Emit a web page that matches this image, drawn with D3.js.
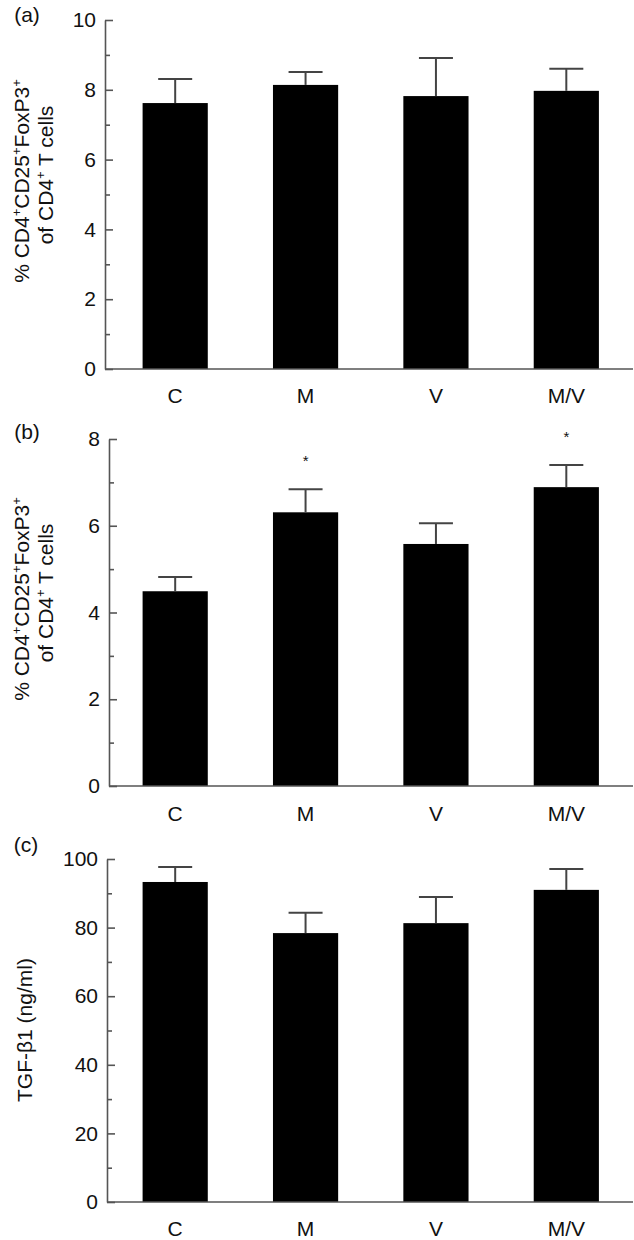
<!DOCTYPE html>
<html>
<head>
<meta charset="utf-8">
<script src="https://cdn.jsdelivr.net/npm/d3@7"></script>
<style>
  html, body { margin: 0; padding: 0; background: #fff; }
  svg { display: block; }
  text { font-family: "Liberation Sans", Arial, Helvetica, sans-serif; fill: #111; }
</style>
</head>
<body>
<svg id="chart" width="634" height="1240"></svg>
<script>
// ---- data ----
const categories = ["C", "M", "V", "M/V"];

const valuesA = [7.62, 8.14, 7.82, 7.97];
const errorsA = [0.69, 0.37, 1.09, 0.63];
const ticksA = [0, 2, 4, 6, 8, 10];
const minorTicksA = [1, 3, 5, 7, 9];

const valuesB = [4.49, 6.31, 5.58, 6.89];
const errorsB = [0.33, 0.53, 0.48, 0.51];
const starsB = [false, true, false, true];
const ticksB = [0, 2, 4, 6, 8];
const minorTicksB = [1, 3, 5, 7];

const valuesC = [93.3, 78.4, 81.3, 91.0];
const errorsC = [4.4, 5.9, 7.6, 6.1];
const ticksC = [0, 20, 40, 60, 80, 100];
const minorTicksC = [10, 30, 50, 70, 90];

const panelLabels = ["(a)", "(b)", "(c)"];
const titleFoxp3Line1 = [["% CD4", false], ["+", true], ["CD25", false], ["+", true], ["FoxP3", false], ["+", true]];
const titleFoxp3Line2 = [["of CD4", false], ["+", true], [" T cells", false]];
const titleTGF = "TGF-\u03B21 (ng/ml)";

// ---- layout ----
const svg = d3.select("#chart");
const axisColor = "#555";
const errColor = "#444";
const fs = "21px";

const panels = [
  { label: panelLabels[0], labelPos: [27, 15], values: valuesA, errors: errorsA, stars: null,
    domain: [0, 10], ticks: ticksA, minor: minorTicksA, yTop: 20, yBottom: 369, axisX: 105,
    titleLines: [titleFoxp3Line1, titleFoxp3Line2], titleX: [29, 53], titleY: [181, 175], catY: 403 },
  { label: panelLabels[1], labelPos: [27, 432], values: valuesB, errors: errorsB, stars: starsB,
    domain: [0, 8], ticks: ticksB, minor: minorTicksB, yTop: 439, yBottom: 786, axisX: 109,
    titleLines: [titleFoxp3Line1, titleFoxp3Line2], titleX: [29, 53], titleY: [599, 593], catY: 821 },
  { label: panelLabels[2], labelPos: [26, 845], values: valuesC, errors: errorsC, stars: null,
    domain: [0, 100], ticks: ticksC, minor: minorTicksC, yTop: 859, yBottom: 1202, axisX: 107,
    titleLines: [[[titleTGF, false]]], titleX: [32], titleY: [1030], catY: 1236 }
];

const x = d3.scaleBand()
  .domain(categories)
  .range([110, 631.5])
  .paddingInner(0.5)
  .paddingOuter(0.25);

panels.forEach(p => {
  const g = svg.append("g");
  const y = d3.scaleLinear().domain(p.domain).range([p.yBottom, p.yTop]);

  // panel label
  g.append("text")
    .attr("x", p.labelPos[0]).attr("y", p.labelPos[1])
    .attr("dy", "0.35em")
    .attr("text-anchor", "middle")
    .style("font-size", fs)
    .text(p.label);

  // y title (rotated)
  p.titleLines.forEach((line, i) => {
    const t = g.append("text")
      .attr("transform", `translate(${p.titleX[i]},${p.titleY[i]}) rotate(-90)`)
      .attr("text-anchor", "middle")
      .style("font-size", fs);
    let raised = false;
    line.forEach(([s, sup]) => {
      const ts = t.append("tspan").text(s);
      if (sup) {
        ts.style("font-size", "13px");
        if (!raised) { ts.attr("dy", -8); raised = true; }
      } else if (raised) {
        ts.attr("dy", 8); raised = false;
      }
    });
  });

  // bars
  g.selectAll("rect.bar").data(p.values).enter().append("rect")
    .attr("class", "bar")
    .attr("x", (d, i) => x(categories[i]))
    .attr("width", x.bandwidth())
    .attr("y", d => y(d))
    .attr("height", d => y(0) - y(d))
    .attr("fill", "#000");

  // error bars
  const cap = 17;
  const eg = g.append("g").attr("stroke", errColor).attr("stroke-width", 2);
  p.values.forEach((v, i) => {
    const cx = x(categories[i]) + x.bandwidth() / 2;
    eg.append("line").attr("x1", cx).attr("x2", cx).attr("y1", y(v)).attr("y2", y(v + p.errors[i]));
    eg.append("line").attr("x1", cx - cap).attr("x2", cx + cap).attr("y1", y(v + p.errors[i])).attr("y2", y(v + p.errors[i]));
  });

  // stars
  if (p.stars) {
    p.stars.forEach((s, i) => {
      if (!s) return;
      const cx = x(categories[i]) + x.bandwidth() / 2;
      g.append("text")
        .attr("x", cx)
        .attr("y", y(p.values[i] + p.errors[i]) - 23)
        .attr("text-anchor", "middle")
        .style("font-size", "15px")
        .text("*");
    });
  }

  // y axis major
  const yAxis = d3.axisLeft(y).tickValues(p.ticks).tickSizeInner(-8).tickSizeOuter(0).tickPadding(9)
    .tickFormat(d3.format("d"));
  const ya = g.append("g").attr("transform", `translate(${p.axisX},0)`).call(yAxis);
  ya.select(".domain").attr("stroke", axisColor).attr("stroke-width", 1.6);
  ya.selectAll(".tick line").attr("stroke", axisColor).attr("stroke-width", 1.6);
  ya.selectAll(".tick text").style("font-size", fs).style("font-family", "Liberation Sans, Arial, sans-serif").attr("fill", "#111");

  // y axis minor
  const yMinor = d3.axisLeft(y).tickValues(p.minor).tickSizeInner(-5).tickSizeOuter(0).tickFormat("");
  const ym = g.append("g").attr("transform", `translate(${p.axisX},0)`).call(yMinor);
  ym.select(".domain").remove();
  ym.selectAll(".tick line").attr("stroke", axisColor).attr("stroke-width", 1.6);

  // x axis baseline
  g.append("line")
    .attr("x1", p.axisX).attr("x2", 633)
    .attr("y1", y(0)).attr("y2", y(0))
    .attr("stroke", axisColor).attr("stroke-width", 1.6);

  // category labels
  g.selectAll("text.cat").data(categories).enter().append("text")
    .attr("class", "cat")
    .attr("x", d => x(d) + x.bandwidth() / 2)
    .attr("y", p.catY)
    .attr("text-anchor", "middle")
    .style("font-size", fs)
    .text(d => d);
});
</script>
</body>
</html>
